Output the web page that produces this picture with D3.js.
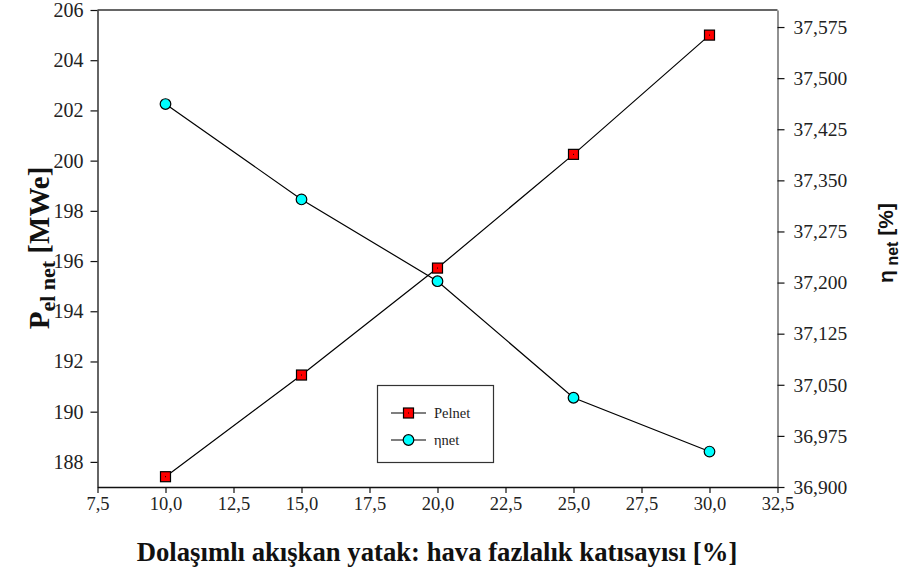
<!DOCTYPE html>
<html>
<head>
<meta charset="utf-8">
<script src="https://cdn.jsdelivr.net/npm/d3@7"></script>
<style>
  body { margin: 0; background: #fff; }
  svg { display: block; }
</style>
</head>
<body>
<svg width="910" height="583"></svg>
<script>
var svg = d3.select('svg');

// data
var xValues = [10, 15, 20, 25, 30];
var pelnet = [187.41, 191.46, 195.72, 200.25, 205.0];
var etanet = [37.462, 37.322, 37.202, 37.031, 36.952];
var xTicks = [7.5, 10, 12.5, 15, 17.5, 20, 22.5, 25, 27.5, 30, 32.5];
var leftTicks = [188, 190, 192, 194, 196, 198, 200, 202, 204, 206];
var rightTicks = [36.9, 36.975, 37.05, 37.125, 37.2, 37.275, 37.35, 37.425, 37.5, 37.575];

var pLeft = 97.5, pRight = 777.5, pTop = 10, pBottom = 487;
var serif = "'Liberation Serif', 'Times New Roman', serif";

var x = d3.scaleLinear().domain([7.5, 32.5]).range([pLeft, pRight]);
var yL = d3.scaleLinear().domain([187, 206]).range([pBottom, pTop]);
var yR = d3.scaleLinear().domain([36.9, 37.6]).range([pBottom, pTop]);

var comma = function(fmt){
    return function(d){ return d3.format(fmt)(d).replace('.', ','); };
};

// top frame line
svg.append('line')
    .attr('x1', pLeft).attr('x2', pRight)
    .attr('y1', pTop).attr('y2', pTop)
    .attr('stroke', '#333').attr('stroke-width', 1.3);

var gx = svg.append('g')
    .attr('transform', 'translate(0,' + pBottom + ')')
    .call(d3.axisBottom(x).tickValues(xTicks).tickFormat(comma('.1f')).tickSize(6).tickSizeOuter(0));
gx.selectAll('text').attr('y', 10).attr('dy', '0.71em');

var gl = svg.append('g')
    .attr('transform', 'translate(' + pLeft + ',0)')
    .call(d3.axisLeft(yL).tickValues(leftTicks).tickSize(7).tickSizeOuter(0));
gl.selectAll('text').attr('x', -14);

var gr = svg.append('g')
    .attr('transform', 'translate(' + pRight + ',0)')
    .call(d3.axisRight(yR).tickValues(rightTicks).tickFormat(comma('.3f')).tickSize(7).tickSizeOuter(0));
gr.selectAll('text').attr('x', 16);

gx.attr('font-family', serif).attr('font-size', 18.5);
gl.attr('font-family', serif).attr('font-size', 20);
gr.attr('font-family', serif).attr('font-size', 19.5);
svg.selectAll('.tick text').attr('fill', '#222');
svg.selectAll('.domain').attr('stroke', '#111').attr('stroke-width', 1.3);
svg.selectAll('.tick line').attr('stroke', '#111').attr('stroke-width', 1.2);
gr.select('.domain').attr('stroke', '#555');

// lines
var linePel = d3.line()
    .x(function(d, i){ return x(xValues[i]); })
    .y(function(d){ return yL(d); });
var lineEta = d3.line()
    .x(function(d, i){ return x(xValues[i]); })
    .y(function(d){ return yR(d); });

svg.append('path').datum(pelnet)
    .attr('d', linePel).attr('fill', 'none')
    .attr('stroke', '#000').attr('stroke-width', 1.2);
svg.append('path').datum(etanet)
    .attr('d', lineEta).attr('fill', 'none')
    .attr('stroke', '#000').attr('stroke-width', 1.2);

function square(g, cx, cy){
    g.append('rect')
        .attr('x', cx - 5).attr('y', cy - 5)
        .attr('width', 10).attr('height', 10)
        .attr('fill', '#ff0000').attr('stroke', '#000').attr('stroke-width', 1.2);
    g.append('rect')
        .attr('x', cx - 0.5).attr('y', cy - 0.5)
        .attr('width', 1).attr('height', 1).attr('fill', '#000');
}
function dot(g, cx, cy){
    g.append('circle')
        .attr('cx', cx).attr('cy', cy).attr('r', 5.3)
        .attr('fill', '#00ffff').attr('stroke', '#000').attr('stroke-width', 1.2);
}

var marks = svg.append('g');
etanet.forEach(function(d, i){ dot(marks, x(xValues[i]), yR(d)); });
pelnet.forEach(function(d, i){ square(marks, x(xValues[i]), yL(d)); });

// legend
var lg = svg.append('g');
lg.append('rect')
    .attr('x', 377.5).attr('y', 385.5).attr('width', 116).attr('height', 77)
    .attr('fill', '#fff').attr('stroke', '#333').attr('stroke-width', 1.2);
[{label: 'Pelnet', y: 413, f: square}, {label: 'ηnet', y: 440, f: dot}].forEach(function(e){
    lg.append('line')
        .attr('x1', 391).attr('x2', 426).attr('y1', e.y).attr('y2', e.y)
        .attr('stroke', '#000').attr('stroke-width', 1.2);
    e.f(lg, 408.5, e.y);
    lg.append('text')
        .attr('x', 434).attr('y', e.y + 5)
        .attr('font-family', serif).attr('font-size', 14.5)
        .attr('fill', '#222')
        .text(e.label);
});

// axis titles
svg.append('text')
    .attr('x', 437).attr('y', 561)
    .attr('text-anchor', 'middle')
    .attr('font-family', serif).attr('font-weight', 'bold').attr('font-size', 26.7)
    .attr('fill', '#111')
    .text('Dolaşımlı akışkan yatak: hava fazlalık katısayısı [%]');

var tl = svg.append('text')
    .attr('transform', 'translate(49,248) rotate(-90)')
    .attr('text-anchor', 'middle')
    .attr('font-family', serif).attr('font-weight', 'bold').attr('font-size', 29)
    .attr('fill', '#111');
tl.append('tspan').text('P');
tl.append('tspan').attr('font-size', 22).attr('dy', 6).text('el net');
tl.append('tspan').attr('dy', -6).text(' [MWe]');

var tr = svg.append('text')
    .attr('transform', 'translate(893,243) rotate(-90)')
    .attr('text-anchor', 'middle')
    .attr('font-family', 'Liberation Sans, Arial, sans-serif').attr('font-weight', 'bold').attr('font-size', 21)
    .attr('fill', '#111');
tr.append('tspan').text('η');
tr.append('tspan').attr('font-size', 16).attr('dy', 5).text(' net');
tr.append('tspan').attr('dy', -5).text(' [%]');
</script>
</body>
</html>
